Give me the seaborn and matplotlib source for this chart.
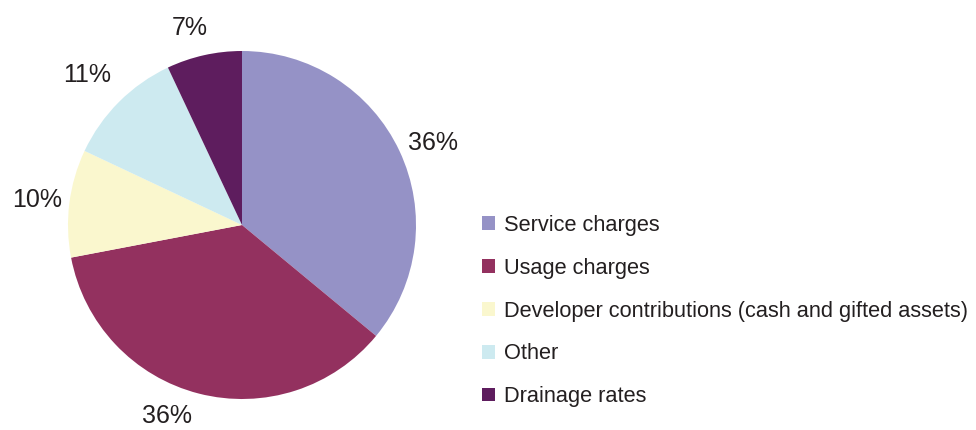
import matplotlib
matplotlib.use("Agg")
import matplotlib.pyplot as plt
import seaborn as sns

# Revenue sources and their shares (%)
categories = [
    "Service charges",
    "Usage charges",
    "Developer contributions (cash and gifted assets)",
    "Other",
    "Drainage rates",
]
shares = [36, 36, 10, 11, 7]
colours = ["#9592C6", "#93315F", "#FAF7CE", "#CDEAF0", "#5E1D5E"]

sns.set_theme(style="white")
plt.rcParams["font.family"] = ["Liberation Sans", "DejaVu Sans"]
text_colour = "#231F20"

# Where each percentage label sits (pie radius = 1, text baseline)
label_xy = [(1.095, 0.431), (-0.431, -1.14), (-1.178, 0.103),
            (-0.888, 0.822), (-0.299, 1.092)]

fig = plt.figure(figsize=(9.76, 4.30), dpi=100)
ax = fig.add_axes([68 / 976, 31 / 430, 348 / 976, 348 / 430])

wedges, _, pct_texts = ax.pie(
    shares,
    colors=sns.color_palette(colours),
    startangle=90,
    counterclock=False,
    autopct=lambda p: f"{p:.0f}%",
    pctdistance=1.2,
    wedgeprops=dict(linewidth=0),
    textprops=dict(fontsize=18, color=text_colour),
)
ax.set_xlim(-1, 1)
ax.set_ylim(-1, 1)
ax.set_aspect("equal")
for t, xy in zip(pct_texts, label_xy):
    t.set_clip_on(False)
    t.set_position(xy)
    t.set_verticalalignment("baseline")

fig.legend(
    wedges,
    categories,
    loc="center left",
    bbox_to_anchor=(482 / 976, (430 - 311) / 430),
    frameon=False,
    fontsize=15.7,
    labelcolor=text_colour,
    handlelength=0.6,
    handleheight=0.6,
    handletextpad=0.4,
    labelspacing=1.0,
    borderpad=0,
    borderaxespad=0,
)

fig.savefig("out.png", dpi=100)
